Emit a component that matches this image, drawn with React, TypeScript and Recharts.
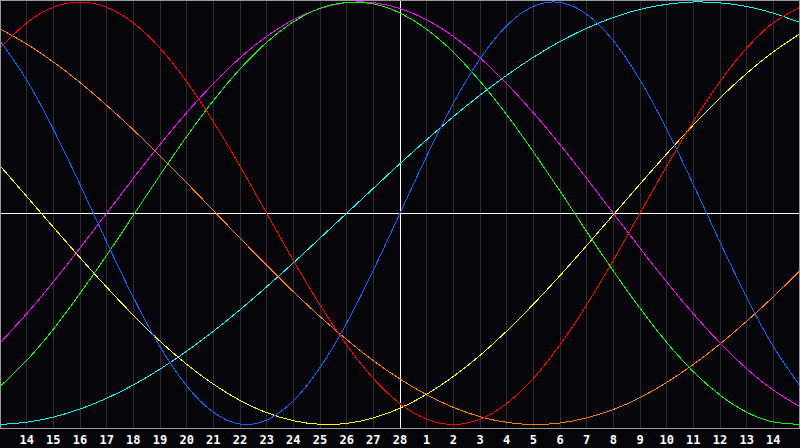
import React from 'react';
import { LineChart, Line, XAxis, YAxis, CartesianGrid, ReferenceLine } from 'recharts';

// day slots shown across the chart (slot 0 and 30 have no label)
const dayLabels = [
  '13', '14', '15', '16', '17', '18', '19', '20', '21', '22', '23', '24', '25', '26', '27', '28',
  '1', '2', '3', '4', '5', '6', '7', '8', '9', '10', '11', '12', '13', '14', '15',
];
const tickSlots = [1, 2, 3, 4, 5, 6, 7, 8, 9, 10, 11, 12, 13, 14, 15, 16, 17, 18, 19, 20, 21, 22, 23, 24, 25, 26, 27, 28, 29];

// values, one per day slot
const physical = [
  0.817, 0.631, 0.398, 0.136, -0.136, -0.398, -0.631, -0.817, -0.942, -0.998, -0.979, -0.888, -0.731,
  -0.52, -0.27, 0, 0.27, 0.52, 0.731, 0.888, 0.979, 0.998, 0.942, 0.817, 0.631, 0.398, 0.136, -0.136,
  -0.398, -0.631, -0.817,
];
const emotional = [
  0.782, 0.901, 0.975, 1, 0.975, 0.901, 0.782, 0.623, 0.434, 0.223, 0, -0.223, -0.434, -0.623, -0.782,
  -0.901, -0.975, -1, -0.975, -0.901, -0.782, -0.623, -0.434, -0.223, 0, 0.223, 0.434, 0.623, 0.782,
  0.901, 0.975,
];
const intellectual = [
  -0.82, -0.697, -0.549, -0.38, -0.199, -0.01, 0.18, 0.363, 0.533, 0.683, 0.809, 0.906, 0.97, 0.998,
  0.991, 0.948, 0.871, 0.762, 0.625, 0.467, 0.291, 0.105, -0.086, -0.273, -0.45, -0.611, -0.75, -0.861,
  -0.942, -0.988, -0.999,
];
const intuitive = [
  -0.614, -0.476, -0.325, -0.165, 0, 0.165, 0.325, 0.476, 0.614, 0.736, 0.837, 0.916, 0.969, 0.997,
  0.997, 0.969, 0.916, 0.837, 0.736, 0.614, 0.476, 0.325, 0.165, 0, -0.165, -0.325, -0.476, -0.614,
  -0.736, -0.837, -0.916,
];
const aesthetic = [
  0.225, 0.08, -0.066, -0.21, -0.35, -0.483, -0.606, -0.715, -0.809, -0.886, -0.944, -0.982, -0.999,
  -0.995, -0.969, -0.923, -0.857, -0.773, -0.673, -0.558, -0.431, -0.295, -0.153, -0.007, 0.138, 0.281,
  0.418, 0.546, 0.662, 0.764, 0.85,
];
const awareness = [
  0.873, 0.801, 0.716, 0.619, 0.511, 0.395, 0.271, 0.144, 0.013, -0.118, -0.246, -0.371, -0.489, -0.598,
  -0.698, -0.785, -0.859, -0.919, -0.963, -0.99, -1, -0.993, -0.969, -0.929, -0.873, -0.801, -0.716,
  -0.619, -0.511, -0.395, -0.271,
];
const spiritual = [
  -1, -0.989, -0.965, -0.927, -0.876, -0.813, -0.738, -0.653, -0.559, -0.457, -0.348, -0.235, -0.118, 0,
  0.118, 0.235, 0.348, 0.457, 0.559, 0.653, 0.738, 0.813, 0.876, 0.927, 0.965, 0.989, 1, 0.996, 0.979,
  0.947, 0.903,
];

const series = [
  { key: 'spiritual', color: '#00ffff' },
  { key: 'awareness', color: '#ff8000' },
  { key: 'aesthetic', color: '#ffff00' },
  { key: 'intuitive', color: '#ff00ff' },
  { key: 'intellectual', color: '#00ff00' },
  { key: 'emotional', color: '#ff0000' },
  { key: 'physical', color: '#0a64ff' },
];

const data = dayLabels.map((label, i) => ({
  slot: i,
  label,
  physical: physical[i],
  emotional: emotional[i],
  intellectual: intellectual[i],
  intuitive: intuitive[i],
  aesthetic: aesthetic[i],
  awareness: awareness[i],
  spiritual: spiritual[i],
}));

export default function App() {
  return (
    <div style={{ position: 'absolute', left: 0, top: 0, width: 800, height: 448, background: '#050408' }}>
      <LineChart width={800} height={448} data={data} margin={{ top: 0, right: 0, bottom: 0, left: 0 }}>
        <CartesianGrid horizontal={false} stroke="#2e2e2e" shapeRendering="crispEdges" />
        <XAxis
          dataKey="slot"
          type="number"
          domain={[0, 30]}
          ticks={tickSlots}
          height={20}
          tickSize={0}
          tickMargin={7}
          interval={0}
          tickFormatter={(v: number) => dayLabels[v]}
          axisLine={{ stroke: '#9a9a9a', strokeWidth: 1, shapeRendering: 'crispEdges' }}
          tick={{ fill: '#ffffff', fontSize: 12, fontWeight: 'bold', fontFamily: 'DejaVu Sans Mono' }}
        />
        <YAxis hide domain={[-1.0166, 1.0095]} allowDataOverflow />
        <ReferenceLine y={0} stroke="#ffffff" strokeWidth={1} shapeRendering="crispEdges" />
        <ReferenceLine x={15} stroke="#ffffff" strokeWidth={1} shapeRendering="crispEdges" />
        {series.map((s) => (
          <Line
            key={s.key}
            type="natural"
            dataKey={s.key}
            stroke={s.color}
            strokeWidth={1}
            shapeRendering="crispEdges"
            dot={false}
            activeDot={false}
            isAnimationActive={false}
          />
        ))}
      </LineChart>
      <div
        style={{
          position: 'absolute',
          left: 0,
          top: 0,
          width: 800,
          height: 429,
          boxSizing: 'border-box',
          border: '1px solid #9a9a9a',
          borderBottom: 'none',
          pointerEvents: 'none',
        }}
      />
    </div>
  );
}
